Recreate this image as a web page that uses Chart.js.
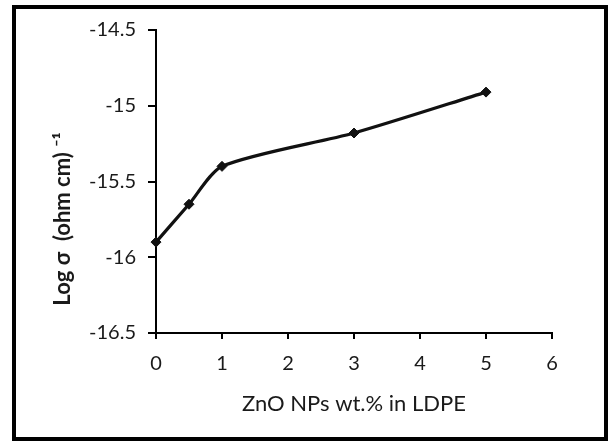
<!DOCTYPE html>
<html>
<head>
<meta charset="utf-8">
<script src="https://cdn.jsdelivr.net/npm/chart.js@4.4.1/dist/chart.umd.min.js"></script>
<style>
    html, body { margin: 0; padding: 0; background: #fff; }
    #wrap { position: relative; width: 608px; height: 441px; }
</style>
</head>
<body>
<div id="wrap"><canvas id="chart" width="608" height="441"></canvas></div>
<script>
// Data
const znoWt = [0, 0.5, 1, 3, 5];
const logSigma = [-15.90, -15.65, -15.40, -15.18, -14.91];
const xTicks = [0, 1, 2, 3, 4, 5, 6];
const yTicks = [-16.5, -16, -15.5, -15, -14.5];

const textColor = '#1a1a1a';
const fontFamily = 'Lato, "Open Sans", sans-serif';

// Outer black frame round the whole figure
const framePlugin = {
    id: 'frame',
    afterDraw(chart) {
        const ctx = chart.ctx;
        ctx.save();
        ctx.strokeStyle = '#000';
        ctx.lineWidth = 4;
        ctx.strokeRect(14, 7, 592, 432);
        ctx.restore();
    }
};

const ctx = document.getElementById('chart').getContext('2d');
new Chart(ctx, {
    type: 'line',
    data: {
        datasets: [{
            data: znoWt.map((x, i) => ({ x: x, y: logSigma[i] })),
            borderColor: '#111',
            backgroundColor: '#111',
            borderWidth: 3.2,
            tension: 0.25,
            pointStyle: 'rectRot',
            pointRadius: 5,
            pointBorderWidth: 1,
            clip: false
        }]
    },
    options: {
        responsive: false,
        animation: false,
        devicePixelRatio: 1,
        layout: { padding: { left: 0, right: 56, top: 30, bottom: 0 } },
        plugins: {
            legend: { display: false },
            tooltip: { enabled: false }
        },
        scales: {
            x: {
                type: 'linear',
                min: 0,
                max: 6,
                afterBuildTicks: s => { s.ticks = xTicks.map(v => ({ value: v })); },
                afterFit: s => { s.height = 108; },
                ticks: {
                    color: textColor,
                    font: { family: fontFamily, size: 20 },
                    padding: 13,
                    maxRotation: 0,
                    autoSkip: false,
                    callback: v => String(v)
                },
                grid: {
                    drawOnChartArea: false,
                    color: '#000',
                    tickColor: '#000',
                    lineWidth: 2,
                    tickLength: 6
                },
                border: { color: '#000', width: 2 },
                title: {
                    display: true,
                    text: 'ZnO NPs wt.% in LDPE',
                    color: textColor,
                    font: { family: fontFamily, size: 22 },
                    padding: { top: 0, bottom: 24 }
                }
            },
            y: {
                type: 'linear',
                min: -16.5,
                max: -14.5,
                afterBuildTicks: s => { s.ticks = yTicks.map(v => ({ value: v })); },
                afterFit: s => { s.width = 156; },
                ticks: {
                    color: textColor,
                    font: { family: fontFamily, size: 20 },
                    padding: 12,
                    callback: v => String(v)
                },
                grid: {
                    drawOnChartArea: false,
                    color: '#000',
                    tickColor: '#000',
                    lineWidth: 2,
                    tickLength: 8
                },
                border: { color: '#000', width: 2 },
                title: {
                    display: true,
                    // trailing spaces push the label down, as in the original
                    text: 'Log σ  (ohm cm) ⁻¹' + '\u00a0'.repeat(14),
                    color: textColor,
                    font: { family: fontFamily, size: 22, weight: 'bold' },
                    padding: { top: 50, bottom: 0 }
                }
            }
        }
    },
    plugins: [framePlugin]
});
</script>
</body>
</html>
